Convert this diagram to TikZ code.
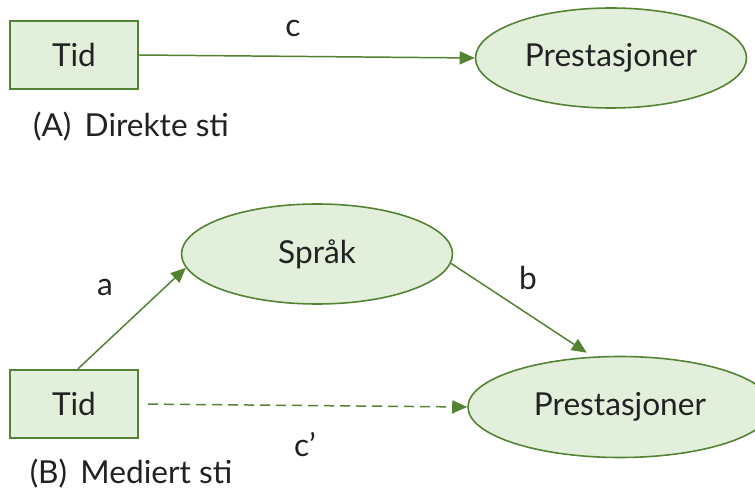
\documentclass[tikz,border=0pt]{standalone}
\usepackage{fontspec}
\setmainfont{Lato}
\usetikzlibrary{arrows.meta,shapes.geometric}

\definecolor{pathgreen}{RGB}{84,130,53}
\definecolor{boxfill}{RGB}{226,239,218}
\definecolor{textgray}{RGB}{34,34,34}

\begin{document}
\begin{tikzpicture}[
    font=\fontsize{18}{22}\selectfont,
    text=textgray,
    var/.style={draw=pathgreen,line width=1.4pt,fill=boxfill,
        minimum width=2.56cm,minimum height=1.36cm,inner sep=0pt},
    latent/.style={ellipse,draw=pathgreen,line width=0.9pt,fill=boxfill,
        minimum width=5.42cm,minimum height=2cm,inner sep=0pt},
    path/.style={draw=pathgreen,line width=0.85pt,
        -{Triangle[length=0.3cm,width=0.26cm]}}
]
    \useasboundingbox (0,0) rectangle (15.1,9.84);

    % (A) direct path
    \node[var] (tidA) at (1.48,8.74) {Tid};
    \node[latent] (prestA) at (12.22,8.68) {Prestasjoner};
    \draw[path] (tidA.east) -- (prestA.west);
    \node at (5.86,9.28) {c};
    \node at (2.62,7.30) {(A)\, Direkte sti};

    % (B) mediated path
    \node[var] (tidB) at (1.48,1.76) {Tid};
    \node[latent] (sprak) at (6.34,4.76) {Språk};
    \node[latent,minimum width=6.08cm,minimum height=2.02cm] (prestB) at (12.4,1.70) {Prestasjoner};

    \draw[path] ([xshift=0.08cm]tidB.north) -- (sprak.186);
    \draw[path] (sprak.-4) -- ([shift={(-0.06cm,0.08cm)}]prestB.121);
    \draw[path,dashed,dash pattern=on 0.2cm off 0.12cm,shorten <=0.18cm] (tidB.east) -- (prestB.west);

    % path labels
    \node at (2.10,4.10) {a};
    \node at (10.56,4.28) {b};
    \node at (6.10,0.94) {c’};
    \node at (2.62,0.36) {(B)\, Mediert sti};
\end{tikzpicture}
\end{document}
